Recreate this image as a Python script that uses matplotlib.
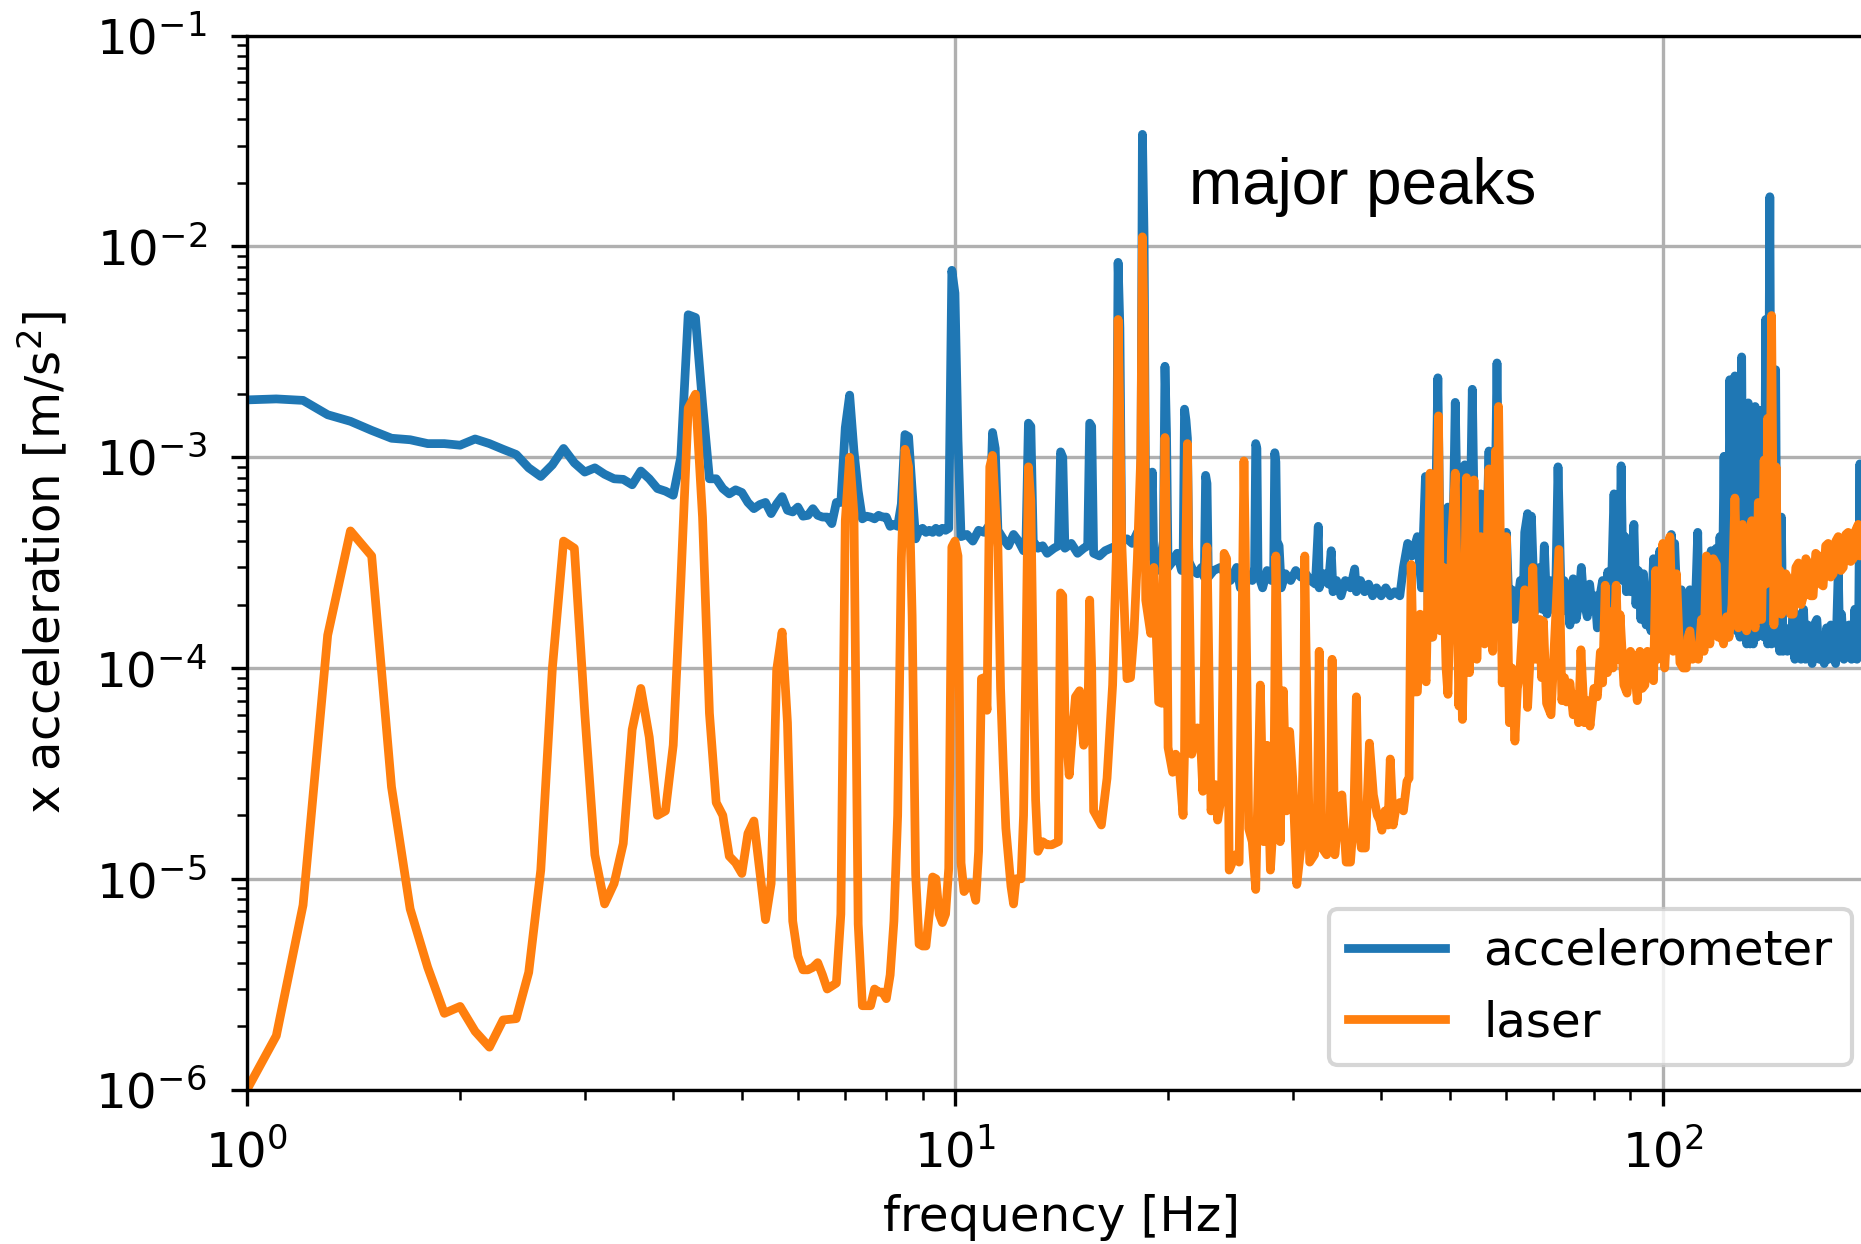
import matplotlib
matplotlib.use("Agg")
import matplotlib.pyplot as plt

# Accelerometer amplitude spectrum [m/s^2] vs frequency [Hz]
accel_freq = [
    1.0, 1.1, 1.2, 1.3, 1.4, 1.5, 1.6, 1.7, 1.8, 1.9, 2.0, 2.1, 2.2, 2.3, 2.4, 2.5, 2.6, 2.7, 2.8, 2.9,
    3.0, 3.1, 3.2, 3.3, 3.4, 3.5, 3.6, 3.7, 3.8, 3.9, 4.0, 4.1, 4.2, 4.3, 4.4, 4.5, 4.6, 4.7, 4.8, 4.9,
    5.0, 5.1, 5.2, 5.3, 5.4, 5.5, 5.6, 5.7, 5.8, 5.9, 6.0, 6.1, 6.2, 6.3, 6.4, 6.5, 6.6, 6.7, 6.8, 6.9,
    7.0, 7.1, 7.2, 7.3, 7.4, 7.5, 7.6, 7.7, 7.8, 7.9, 8.0, 8.1, 8.2, 8.3, 8.4, 8.5, 8.6, 8.7, 8.8, 8.9,
    9.0, 9.1, 9.2, 9.3, 9.4, 9.5, 9.6, 9.7, 9.8, 9.9, 10.0, 10.1, 10.2, 10.4, 10.6, 10.8, 11.0, 11.2,
    11.3, 11.4, 11.5, 11.7, 11.9, 12.1, 12.3, 12.5, 12.6, 12.7, 12.8, 12.9, 13.1, 13.3, 13.5, 13.8,
    14.0, 14.1, 14.2, 14.3, 14.6, 14.9, 15.2, 15.4, 15.5, 15.6, 15.7, 16.0, 16.3, 16.6, 16.9, 17.0,
    17.1, 17.2, 17.5, 17.8, 18.1, 18.3, 18.4, 18.5, 18.6, 18.8, 19.0, 19.1, 19.3, 19.5, 19.7, 19.8,
    19.9, 20.0, 20.3, 20.6, 20.9, 21.0, 21.1, 21.2, 21.3, 21.4, 21.7, 22.0, 22.3, 22.5, 22.6, 22.7,
    22.8, 23.2, 23.7, 24.1, 24.5, 25.0, 25.3, 25.8, 26.3, 26.5, 26.6, 26.7, 26.8, 27.2, 27.6, 28.0,
    28.2, 28.3, 28.4, 28.5, 28.7, 28.9, 29.3, 29.8, 30.3, 30.8, 31.3, 31.8, 32.3, 32.6, 32.7, 33.2,
    33.7, 34.0, 34.2, 34.6, 35.1, 35.6, 36.2, 36.7, 36.9, 37.4, 37.9, 38.4, 38.9, 39.4, 40.0, 40.6,
    41.2, 41.8, 42.5, 43.0, 43.6, 44.2, 45.0, 45.6, 46.2, 46.6, 47.1, 47.6, 48.1, 48.6, 49.2, 49.7,
    50.3, 50.9, 51.5, 52.0, 52.5, 53.1, 53.8, 54.4, 55.3, 55.7, 56.1, 56.8, 57.2, 57.7, 58.3, 58.7,
    59.2, 59.7, 60.1, 60.6, 61.2, 61.7, 62.1, 62.9, 63.4, 63.8, 64.4, 64.8, 65.2, 65.9, 66.5, 67.0,
    67.5, 68.0, 68.6, 69.2, 70.1, 70.6, 71.1, 71.9, 72.5, 73.1, 73.9, 74.7, 75.4, 76.0, 76.7, 77.3,
    78.2, 78.8, 79.5, 80.2, 80.8, 81.5, 82.2, 82.9, 83.6, 84.4, 85.3, 85.8, 86.4, 86.9, 87.3, 87.8,
    88.4, 88.8, 89.3, 90.1, 91.0, 91.6, 92.3, 93.1, 93.9, 94.7, 95.5, 96.2, 97.0, 97.9, 99.0, 99.7,
    100.6, 101.6, 102.8, 103.4, 103.9, 105.0, 106.2, 107.0, 107.9, 108.5, 109.2, 110.1, 111.0, 112.0,
    112.6, 113.4, 114.3, 115.2, 116.0, 117.0, 118.0, 119.0, 119.7, 120.4, 121.2, 122.0, 122.6, 123.2,
    123.7, 124.3, 125.3, 126.4, 127.1, 127.8, 128.5, 129.2, 129.9, 130.6, 131.3, 132.0, 132.8, 133.5,
    134.2, 135.0, 135.8, 136.4, 137.1, 138.3, 139.0, 139.7, 140.6, 141.6, 142.4, 143.1, 144.3, 145.0,
    145.5, 146.2, 147.0, 147.8, 148.6, 149.9, 151.2, 152.0, 152.8, 153.6, 154.5, 155.4, 156.7, 158.0,
    159.0, 160.2, 161.3, 162.5, 163.6, 165.0, 166.3, 167.6, 169.0, 170.3, 171.5, 172.7, 174.0, 175.4,
    176.9, 177.8, 178.8, 180.2, 181.7, 183.2, 184.7, 185.7, 186.7, 188.0, 189.0, 189.8, 190.3,
]
accel_amp = [
    1.87e-3, 1.89e-3, 1.86e-3, 1.59e-3, 1.48e-3, 1.34e-3, 1.23e-3, 1.21e-3, 1.16e-3, 1.16e-3,
    1.14e-3, 1.22e-3, 1.16e-3, 1.09e-3, 1.03e-3, 8.9e-4, 8.1e-4, 9.2e-4, 1.10e-3, 9.4e-4,
    8.5e-4, 8.9e-4, 8.3e-4, 7.9e-4, 7.85e-4, 7.4e-4, 8.6e-4, 7.9e-4, 7.1e-4, 6.9e-4,
    6.6e-4, 1.0e-3, 4.74e-3, 4.6e-3, 1.8e-3, 7.9e-4, 7.9e-4, 7.1e-4, 6.7e-4, 7.0e-4,
    6.8e-4, 6.1e-4, 5.7e-4, 5.96e-4, 6.1e-4, 5.4e-4, 6.0e-4, 6.5e-4, 5.6e-4, 5.5e-4,
    5.8e-4, 5.25e-4, 5.3e-4, 5.7e-4, 5.3e-4, 5.2e-4, 5.2e-4, 4.84e-4, 6.1e-4, 6.1e-4,
    1.38e-3, 1.97e-3, 1.07e-3, 6.9e-4, 5.1e-4, 5.25e-4, 5.2e-4, 5.1e-4, 5.3e-4, 5.2e-4,
    5.2e-4, 4.7e-4, 4.8e-4, 4.7e-4, 6.0e-4, 1.28e-3, 1.25e-3, 7.0e-4, 4.1e-4, 4.5e-4,
    4.6e-4, 4.4e-4, 4.5e-4, 4.4e-4, 4.6e-4, 4.4e-4, 4.6e-4, 4.5e-4, 4.6e-4, 7.7e-3,
    6.0e-3, 1.2e-3, 4.2e-4, 4.3e-4, 4.0e-4, 4.5e-4, 4.4e-4, 4.8e-4,
    1.31e-3, 1.1e-3, 4.5e-4, 4.1e-4, 3.8e-4, 4.3e-4, 4.0e-4, 3.6e-4, 4.0e-4, 1.45e-3,
    1.4e-3, 4.0e-4, 3.7e-4, 3.8e-4, 3.5e-4, 3.7e-4,
    3.8e-4, 1.06e-3, 1.0e-3, 3.7e-4, 3.9e-4, 3.5e-4, 3.7e-4, 3.8e-4, 1.45e-3, 1.4e-3,
    3.5e-4, 3.4e-4, 3.6e-4, 3.7e-4, 3.8e-4, 8.4e-3,
    4.1e-3, 4.0e-4, 4.1e-4, 3.9e-4, 4.4e-4, 4.5e-4, 3.4e-2, 1.1e-2, 4.0e-4, 3.4e-4,
    8.5e-4, 3.0e-4, 2.9e-4, 3.2e-4, 4.0e-4, 2.7e-3,
    1.3e-3, 3.0e-4, 3.2e-4, 3.5e-4, 2.9e-4, 3.0e-4, 1.69e-3, 1.5e-3, 1.23e-3, 3.2e-4,
    2.9e-4, 2.8e-4, 3.0e-4, 2.7e-4, 8.2e-4, 7.5e-4,
    2.7e-4, 2.9e-4, 3.0e-4, 2.8e-4, 2.6e-4, 3.0e-4, 2.4e-4, 2.8e-4, 2.6e-4, 3.0e-4,
    1.16e-3, 1.1e-3, 2.8e-4, 2.4e-4, 2.9e-4, 2.6e-4,
    3.0e-4, 1.05e-3, 9.5e-4, 4.0e-4, 3.8e-4, 2.4e-4, 2.8e-4, 2.6e-4, 2.9e-4, 2.7e-4,
    2.8e-4, 2.6e-4, 2.5e-4, 4.7e-4, 2.4e-4, 2.8e-4,
    2.5e-4, 3.6e-4, 2.3e-4, 2.6e-4, 2.2e-4, 2.6e-4, 2.4e-4, 2.95e-4, 2.3e-4, 2.6e-4,
    2.3e-4, 2.5e-4, 2.2e-4, 2.4e-4, 2.2e-4, 2.4e-4,
    2.2e-4, 2.3e-4, 2.2e-4, 3.0e-4, 3.9e-4, 3.4e-4, 4.2e-4, 2.4e-4, 8.1e-4, 2.0e-4,
    1.4e-4, 3.0e-4, 2.38e-3, 1.6e-4, 3.0e-4, 5.8e-4,
    1.7e-4, 1.82e-3, 1.9e-4, 3.5e-4, 9.2e-4, 1.4e-4, 2.1e-3, 1.8e-4, 6.7e-4, 3.0e-4,
    2.2e-4, 1.07e-3, 3.2e-4, 1.8e-4, 2.8e-3, 4.5e-4,
    3.6e-4, 2.0e-4, 4.4e-4, 2.0e-4, 2.35e-4, 1.7e-4, 1.85e-4, 2.6e-4, 1.7e-4, 4.4e-4,
    5.4e-4, 2.1e-4, 5.25e-4, 1.85e-4, 2.5e-4, 3.0e-4,
    1.9e-4, 3.8e-4, 1.8e-4, 2.6e-4, 1.9e-4, 2.5e-4, 9.0e-4, 1.85e-4, 2.6e-4, 2.35e-4,
    1.6e-4, 2.65e-4, 1.7e-4, 2.0e-4, 3.0e-4, 2.1e-4,
    1.75e-4, 2.5e-4, 1.9e-4, 2.2e-4, 1.55e-4, 2.2e-4, 2.6e-4, 1.7e-4, 2.86e-4, 1.8e-4,
    6.7e-4, 2.5e-4, 5.65e-4, 3.0e-4, 9.1e-4, 2.6e-4,
    4.2e-4, 2.3e-4, 4.0e-4, 2.3e-4, 4.8e-4, 2.0e-4, 2.9e-4, 1.7e-4, 2.8e-4, 1.6e-4,
    2.25e-4, 1.5e-4, 3.3e-4, 1.6e-4, 3.6e-4, 1.6e-4,
    3.4e-4, 1.7e-4, 4.3e-4, 1.6e-4, 3.9e-4, 1.55e-4, 2.35e-4, 1.3e-4, 1.55e-4, 1.3e-4,
    2.35e-4, 1.3e-4, 1.7e-4, 4.4e-4,
    1.3e-4, 1.9e-4, 1.3e-4, 3.15e-4, 1.4e-4, 3.6e-4, 1.5e-4, 3.7e-4, 1.5e-4, 4.2e-4,
    1.6e-4, 1.01e-3, 1.5e-4, 2.1e-4,
    1.4e-4, 2.33e-3, 1.6e-4, 2.43e-3, 1.5e-4, 2.35e-4, 1.4e-4, 2.99e-3, 1.4e-4, 1.9e-4,
    1.3e-4, 1.81e-3, 1.3e-4, 1.66e-4,
    1.3e-4, 1.74e-3, 1.4e-4, 2.0e-4, 1.67e-3, 1.6e-4, 1.4e-4, 4.5e-3, 1.3e-4, 1.72e-2,
    1.3e-4, 2.1e-4, 2.6e-3, 1.3e-4,
    1.55e-4, 1.2e-4, 5.2e-4, 1.2e-4, 1.37e-4, 1.2e-4, 1.55e-4, 1.2e-4, 2.35e-4, 1.1e-4,
    1.8e-4, 1.3e-4, 1.1e-4, 1.9e-4,
    1.1e-4, 1.6e-4, 1.25e-4, 1.05e-4, 1.6e-4, 1.7e-4, 1.1e-4, 1.25e-4, 1.05e-4, 1.55e-4,
    1.1e-4, 1.6e-4, 1.25e-4, 1.05e-4,
    2.9e-4, 1.2e-4, 1.8e-4, 1.1e-4, 1.25e-4, 1.6e-4, 1.1e-4, 1.3e-4, 1.9e-4, 1.1e-4,
    1.5e-4, 9.3e-4, 2.0e-4,
]

# Laser-derived amplitude spectrum [m/s^2] vs frequency [Hz]
laser_freq = [
    1.0, 1.1, 1.2, 1.3, 1.4, 1.5, 1.6, 1.7, 1.8, 1.9, 2.0, 2.1, 2.2, 2.3, 2.4, 2.5, 2.6, 2.7, 2.8, 2.9,
    3.0, 3.1, 3.2, 3.3, 3.4, 3.5, 3.6, 3.7, 3.8, 3.9, 4.0, 4.1, 4.2, 4.3, 4.4, 4.5, 4.6, 4.7, 4.8, 4.9,
    5.0, 5.1, 5.2, 5.3, 5.4, 5.5, 5.6, 5.7, 5.8, 5.9, 6.0, 6.1, 6.2, 6.3, 6.4, 6.5, 6.6, 6.7, 6.8, 6.9,
    7.0, 7.1, 7.2, 7.3, 7.4, 7.5, 7.6, 7.7, 7.8, 7.9, 8.0, 8.1, 8.2, 8.3, 8.4, 8.5, 8.6, 8.7, 8.8, 8.9,
    9.0, 9.1, 9.2, 9.3, 9.4, 9.5, 9.6, 9.7, 9.8, 9.9, 10.0, 10.1, 10.2, 10.3, 10.5, 10.6, 10.7, 10.8,
    10.9, 11.0, 11.1, 11.2, 11.3, 11.4, 11.5, 11.6, 11.7, 11.8, 12.0, 12.1, 12.2, 12.4, 12.5, 12.6,
    12.7, 12.8, 12.9, 13.0, 13.1, 13.3, 13.5, 13.7, 14.0, 14.1, 14.2, 14.3, 14.5, 14.6, 14.8, 15.0,
    15.2, 15.4, 15.5, 15.6, 15.7, 16.1, 16.4, 16.7, 16.9, 17.0, 17.1, 17.2, 17.3, 17.5, 17.7, 17.9,
    18.1, 18.3, 18.4, 18.5, 18.6, 18.9, 19.1, 19.4, 19.6, 19.7, 19.8, 19.9, 20.0, 20.3, 20.5, 20.7,
    21.0, 21.1, 21.2, 21.3, 21.4, 21.6, 22.0, 22.2, 22.4, 22.6, 22.7, 22.8, 23.0, 23.3, 23.5, 23.8,
    24.0, 24.2, 24.4, 24.9, 25.2, 25.5, 25.6, 25.7, 26.0, 26.3, 26.6, 27.0, 27.3, 27.6, 27.9, 28.2,
    28.4, 28.5, 28.8, 29.1, 29.4, 29.7, 30.0, 30.4, 30.8, 31.1, 31.2, 31.3, 31.7, 32.2, 32.5, 32.7,
    33.0, 33.5, 33.9, 34.1, 34.4, 34.8, 35.2, 35.7, 36.2, 36.6, 36.9, 37.2, 37.5, 38.0, 38.5, 39.0,
    39.5, 39.8, 40.1, 40.5, 40.9, 41.2, 41.6, 42.0, 42.5, 43.0, 43.5, 43.8, 44.1, 44.5, 45.0, 45.4,
    45.8, 46.3, 46.9, 47.3, 47.8, 48.2, 48.5, 49.0, 49.4, 49.7, 50.3, 50.9, 51.5, 51.8, 52.1, 52.8,
    53.3, 53.7, 54.1, 54.6, 55.3, 56.0, 56.4, 56.8, 57.5, 58.0, 58.3, 58.6, 59.3, 60.1, 60.7, 61.2,
    61.8, 62.3, 62.8, 63.8, 64.4, 65.0, 65.5, 66.1, 67.0, 67.4, 67.8, 68.5, 69.5, 70.3, 71.3, 72.0,
    72.6, 73.1, 73.9, 74.7, 75.4, 76.0, 76.6, 77.5, 78.2, 78.9, 79.9, 80.8, 81.6, 82.2, 82.9, 83.5,
    84.2, 85.0, 85.9, 86.5, 87.0, 88.1, 89.0, 90.0, 91.0, 92.0, 92.8, 93.5, 94.3, 95.1, 95.9, 97.0,
    97.7, 98.3, 99.0, 100.0, 100.6, 101.4, 102.3, 103.4, 104.5, 105.7, 106.8, 107.9, 108.5, 109.2,
    110.1, 111.0, 112.2, 113.4, 114.3, 115.2, 116.5, 117.8, 119.0, 119.7, 120.4, 121.8, 123.0, 124.0,
    125.2, 126.4, 127.8, 128.5, 129.6, 130.5, 131.3, 132.4, 133.5, 134.2, 135.0, 135.7, 136.4, 137.2,
    137.9, 139.0, 139.8, 140.6, 141.5, 142.4, 143.5, 144.5, 145.4, 146.3, 147.1, 147.9, 149.1, 150.3,
    151.5, 152.8, 154.1, 155.4, 156.7, 158.0, 159.2, 160.4, 161.7, 163.0, 164.4, 165.8, 167.1, 168.4,
    169.8, 171.2, 172.6, 174.0, 175.5, 176.9, 178.4, 179.8, 181.3, 182.7, 184.2, 185.7, 187.2, 188.8,
    189.8, 190.3,
]
laser_amp = [
    1.0e-6, 1.80e-6, 7.5e-6, 1.43e-4, 4.47e-4, 3.4e-4, 2.73e-5, 7.2e-6, 3.8e-6, 2.30e-6,
    2.48e-6, 1.89e-6, 1.59e-6, 2.14e-6, 2.17e-6, 3.6e-6, 1.1e-5, 1.0e-4, 4.0e-4, 3.7e-4,
    6.1e-5, 1.3e-5, 7.6e-6, 9.5e-6, 1.47e-5, 5.1e-5, 8.0e-5, 4.7e-5, 2.0e-5, 2.1e-5,
    4.3e-5, 2.57e-4, 1.71e-3, 1.99e-3, 5.2e-4, 6.1e-5, 2.3e-5, 2.0e-5, 1.28e-5, 1.19e-5,
    1.06e-5, 1.64e-5, 1.88e-5, 1.09e-5, 6.4e-6, 9.5e-6, 9.8e-5, 1.48e-4, 5.5e-5, 6.3e-6,
    4.3e-6, 3.7e-6, 3.7e-6, 3.8e-6, 4.0e-6, 3.5e-6, 3.0e-6, 3.1e-6, 3.2e-6, 6.8e-6,
    5.0e-4, 1.0e-3, 5.4e-4, 6.1e-6, 2.5e-6, 2.5e-6, 2.5e-6, 3.0e-6, 2.9e-6, 2.9e-6,
    2.7e-6, 3.5e-6, 6.3e-6, 2.0e-5, 3.3e-4, 1.09e-3, 9.0e-4, 1.77e-4, 1.05e-5, 4.9e-6,
    4.8e-6, 4.8e-6, 6.8e-6, 1.02e-5, 1.0e-5, 6.8e-6, 6.2e-6, 6.8e-6, 1.12e-5, 3.75e-4,
    4.0e-4, 3.4e-4, 1.19e-5, 8.7e-6, 9.5e-6, 9.0e-6, 7.9e-6, 1.35e-5,
    8.9e-5, 9.0e-5, 6.3e-5, 9.0e-4, 1.02e-3, 6.0e-4, 3.75e-4, 8.0e-5, 3.5e-5, 1.74e-5,
    9.2e-6, 7.6e-6, 1.0e-5, 1.0e-5, 2.0e-5, 1.14e-4,
    9.0e-4, 6.2e-4, 1.0e-4, 2.37e-5, 1.35e-5, 1.5e-5, 1.45e-5, 1.45e-5, 1.5e-5, 2.27e-4,
    2.2e-4, 6.0e-5, 3.1e-5, 4.2e-5, 7.3e-5, 7.8e-5,
    4.3e-5, 5.0e-5, 2.1e-4, 1.0e-4, 2.1e-5, 1.8e-5, 3.0e-5, 8.3e-5, 3.3e-4, 4.5e-3,
    1.5e-3, 4.0e-4, 2.4e-4, 8.9e-5, 9.0e-5, 1.46e-4,
    3.3e-4, 1.0e-3, 1.11e-2, 4.0e-3, 2.1e-4, 1.46e-4, 3.0e-4, 6.9e-5, 6.8e-5, 3.0e-4,
    1.24e-3, 4.0e-4, 4.2e-5, 3.2e-5, 3.9e-5, 3.7e-5,
    2.0e-5, 4.0e-5, 4.0e-4, 1.16e-3, 3.0e-4, 3.9e-5, 5.2e-5, 5.0e-5, 2.6e-5, 3.0e-4,
    3.75e-4, 1.5e-4, 2.1e-5, 2.8e-5, 1.9e-5, 2.5e-5,
    3.5e-4, 3.3e-4, 1.1e-5, 1.3e-5, 1.2e-5, 3.0e-4, 9.6e-4, 4.0e-4, 1.73e-5, 1.5e-5,
    8.9e-6, 8.3e-5, 1.5e-5, 4.3e-5, 1.1e-5, 2.0e-5,
    3.4e-4, 2.0e-4, 1.5e-5, 7.8e-5, 2.1e-5, 5.0e-5, 3.0e-5, 9.4e-6, 1.4e-5, 5.0e-5,
    3.4e-4, 1.5e-4, 1.2e-5, 1.3e-5, 2.0e-5, 1.2e-4,
    1.4e-5, 1.3e-5, 2.0e-5, 1.1e-4, 1.3e-5, 2.0e-5, 2.5e-5, 1.2e-5, 1.2e-5, 2.0e-5,
    7.3e-5, 1.8e-5, 1.4e-5, 1.4e-5, 4.4e-5, 2.5e-5,
    2.0e-5, 1.9e-5, 1.7e-5, 2.1e-5, 1.8e-5, 3.7e-5, 1.8e-5, 2.2e-5, 2.3e-5, 2.1e-5,
    2.9e-5, 3.0e-5, 3.1e-4, 7.7e-5, 7.7e-5, 1.8e-4,
    1.0e-4, 8.6e-5, 8.4e-4, 1.4e-4, 2.5e-4, 1.57e-3, 1.5e-4, 3.0e-4, 1.0e-4, 7.5e-5,
    4.0e-4, 8.4e-4, 6.6e-5, 1.5e-4, 5.7e-5, 8.0e-4,
    9.5e-5, 2.5e-4, 7.8e-4, 1.1e-4, 4.2e-4, 1.3e-4, 3.0e-4, 8.8e-4, 1.2e-4, 1.07e-3,
    4.0e-4, 1.74e-3, 8.5e-5, 4.2e-4, 5.5e-5, 1.0e-4,
    4.5e-5, 8.0e-5, 9.5e-5, 2.35e-4, 6.5e-5, 1.2e-4, 3.0e-4, 1.1e-4, 1.7e-4, 9.0e-5,
    1.67e-4, 6.8e-5, 6.0e-5, 1.34e-4, 3.65e-4, 7.0e-5,
    9.0e-5, 6.9e-5, 8.5e-5, 6.0e-5, 7.5e-5, 5.5e-5, 1.22e-4, 5.5e-5, 7.0e-5, 5.3e-5,
    8.0e-5, 7.3e-5, 1.19e-4, 8.5e-5, 2.47e-4, 9.5e-5,
    1.85e-4, 1.0e-4, 2.47e-4, 1.1e-4, 1.79e-4, 8.3e-5, 7.6e-5, 1.2e-4, 1.1e-4, 7.0e-5,
    1.2e-4, 8.0e-5, 8.3e-5, 1.2e-4, 1.06e-4, 8.7e-5,
    2.9e-4, 1.1e-4, 1.2e-4, 3.9e-4, 1.0e-4, 1.6e-4, 4.2e-4, 1.2e-4, 2.8e-4, 1.06e-4,
    1.0e-4, 1.0e-4, 1.4e-4, 1.5e-4,
    1.1e-4, 1.25e-4, 1.1e-4, 1.7e-4, 1.2e-4, 3.4e-4, 1.3e-4, 3.3e-4, 3.1e-4, 1.4e-4,
    1.55e-4, 1.3e-4, 1.75e-4, 1.4e-4,
    2.0e-4, 6.4e-4, 1.55e-4, 2.2e-4, 4.8e-4, 1.6e-4, 1.5e-4, 2.5e-4, 5.0e-4, 1.7e-4,
    1.55e-4, 2.4e-4, 6.1e-4, 1.7e-4,
    1.7e-4, 9.7e-4, 2.5e-4, 1.53e-3, 2.6e-4, 4.7e-3, 1.6e-4, 9.0e-4, 2.0e-4, 2.9e-4,
    1.8e-4, 1.9e-4, 2.8e-4, 2.65e-4,
    1.8e-4, 1.8e-4, 3.0e-4, 3.15e-4, 2.0e-4, 2.2e-4, 3.3e-4, 3.15e-4, 2.2e-4, 2.2e-4,
    3.5e-4, 3.4e-4, 2.5e-4, 2.45e-4,
    3.8e-4, 3.9e-4, 2.7e-4, 2.8e-4, 4.0e-4, 4.2e-4, 2.9e-4, 3.0e-4, 4.3e-4, 4.4e-4,
    3.2e-4, 3.3e-4, 4.5e-4, 4.8e-4,
    3.4e-4, 4.0e-4,
]

series_labels = ["accelerometer", "laser"]
series_colors = ["#1f77b4", "#ff7f0e"]
x_limits = (1, 200)
y_limits = (1e-6, 1e-1)

W, H, DPI = 1861, 1244, 300
fig = plt.figure(figsize=(W / DPI, H / DPI), dpi=DPI)
# the axes run slightly past the right edge of the canvas
ax = fig.add_axes([247 / W, 154.4 / H, 1629 / W, 1054 / H])

ax.loglog(accel_freq, accel_amp, color=series_colors[0], lw=2.1, label=series_labels[0])
ax.loglog(laser_freq, laser_amp, color=series_colors[1], lw=2.1, label=series_labels[1])

ax.set_xlim(*x_limits)
ax.set_ylim(*y_limits)
ax.grid(True, which="major")
ax.set_axisbelow(True)

fs = 11.6
ax.set_xlabel("frequency [Hz]", fontsize=fs)
ax.set_ylabel("x acceleration [m/s$^2$]", fontsize=fs, labelpad=6)
ax.tick_params(which="both", labelsize=fs, pad=5.8)
ax.tick_params(which="major", length=3.8)
ax.tick_params(which="minor", length=2.3)

ax.legend(loc="lower right", fontsize=11.6)

fig.text(1189 / W, 1 - 204 / H, "major peaks", fontfamily="Liberation Sans",
         fontsize=15.3, va="baseline", ha="left")

fig.savefig("out.png", dpi=DPI)
